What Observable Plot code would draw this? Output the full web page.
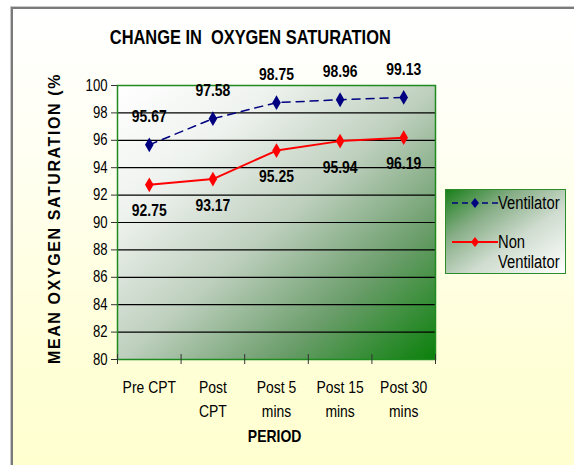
<!DOCTYPE html>
<html>
<head>
<meta charset="utf-8">
<script src="https://cdn.jsdelivr.net/npm/d3@7"></script>
<script src="https://cdn.jsdelivr.net/npm/@observablehq/plot@0.6"></script>
<style>
  html, body { margin: 0; padding: 0; width: 574px; height: 465px; overflow: hidden; background: #fff; }
  #wrap { position: relative; width: 574px; height: 465px; overflow: hidden; font-family: "Liberation Sans", Arial, sans-serif; }
  #bg { position: absolute; left: 11px; top: 7px; width: 620px; height: 520px;
        border: 2px solid #7a7a7a; box-shadow: -1px -1px 0 #c8c8c8;
        background: linear-gradient(to bottom, #ffffff 0%, #fffff4 25%, #ffffd6 70%, #ffffcc 100%); }
  .sq { display: inline-block; transform: scaleX(0.82); white-space: nowrap; }
  #title { position: absolute; left: 0; width: 500px; top: 26px; text-align: center; font-weight: bold; font-size: 20px; line-height: 22px; color: #000; }
  #title .sq { transform-origin: 50% 50%; }
  #ytitle { position: absolute; left: 55px; top: 364px; transform-origin: 0 0; transform: rotate(-90deg) translate(0, -50%);
            white-space: nowrap; font-weight: bold; font-size: 16px; letter-spacing: 1.6px; line-height: 18px; color: #000; }
  #xtitle { position: absolute; left: 225px; width: 100px; top: 427px; text-align: center; font-weight: bold; font-size: 17px; line-height: 20px; color: #000; }
  #xtitle .sq { transform-origin: 50% 50%; }
  #legend { position: absolute; left: 445px; top: 189px; width: 119px; height: 83px; border: 1.5px solid #2c8c2c;
            background: linear-gradient(to bottom right, #1a7f1a 0%, #86ad86 30%, #cfdccf 60%, #ffffff 100%); }
  #legend svg { position: absolute; left: 0; top: 0; }
  .lg { position: absolute; font-size: 18px; color: #000; line-height: 20px; }
  .lg .sq { transform-origin: 0 50%; }
  #plot { position: absolute; left: 0; top: 0; }
</style>
</head>
<body>
<div id="wrap">
  <div id="bg"></div>
  <div id="title"><span class="sq">CHANGE IN&nbsp; OXYGEN SATURATION</span></div>
  <div id="ytitle">MEAN OXYGEN SATURATION (%</div>
  <div id="plot"></div>
  <div id="xtitle"><span class="sq">PERIOD</span></div>
  <div id="legend">
    <svg width="60" height="85">
      <line x1="6" y1="13" x2="52" y2="13" stroke="#000080" stroke-width="1.5" stroke-dasharray="6,4"></line>
      <path d="M29,8 L33,13 L29,18 L25,13 Z" fill="#000080"></path>
      <line x1="6" y1="52" x2="52" y2="52" stroke="#ff0000" stroke-width="2"></line>
      <path d="M29,47 L33,52 L29,57 L25,52 Z" fill="#ff0000"></path>
    </svg>
    <div class="lg" style="left:52px; top:3px;"><span class="sq">Ventilator</span></div>
    <div class="lg" style="left:52px; top:42px;"><span class="sq">Non</span></div>
    <div class="lg" style="left:52px; top:62px;"><span class="sq">Ventilator</span></div>
  </div>
</div>
<script>
const categories = ["Pre CPT", "Post\nCPT", "Post 5\nmins", "Post 15\nmins", "Post 30\nmins"];
const ventilator = [95.67, 97.58, 98.75, 98.96, 99.13];
const nonVentilator = [92.75, 93.17, 95.25, 95.94, 96.19];
const yTicks = [80, 82, 84, 86, 88, 90, 92, 94, 96, 98, 100];

const rows = categories.map((c, i) => ({i, cat: c, v: ventilator[i], n: nonVentilator[i]}));
const bounds = d3.range(categories.length + 1).map(k => k - 0.5);

const chart = Plot.plot({
  width: 574,
  height: 465,
  marginLeft: 117,
  marginRight: 139,
  marginTop: 85,
  marginBottom: 106,
  style: {background: "transparent", fontFamily: '"Liberation Sans", Arial, sans-serif', fontSize: "16px", color: "#000", overflow: "visible"},
  x: {domain: [-0.5, categories.length - 0.5], axis: null, label: null},
  y: {domain: [80, 100], axis: null, label: null},
  marks: [
    Plot.frame({fill: "url(#plotGrad)"}),
    Plot.gridY(yTicks, {stroke: "#000", strokeOpacity: 1, strokeWidth: 1.2}),
    Plot.frame({stroke: "#1f8a1f", strokeWidth: 1.5}),
    Plot.axisY(yTicks, {anchor: "left", tickSize: 6, tickPadding: 4, stroke: "#333", fontSize: 16, tickFormat: d => String(d), label: null}),
    Plot.axisX(bounds, {anchor: "bottom", tickSize: 5, stroke: "#333", tickFormat: () => "", label: null}),
    Plot.axisX(bounds, {anchor: "bottom", tickSize: -5, stroke: "#333", tickFormat: () => "", label: null}),
    Plot.text(rows, {x: "i", text: "cat", frameAnchor: "bottom", dy: 16, lineAnchor: "top", lineHeight: 1.42, fontSize: 17}),
    Plot.line(rows, {x: "i", y: "v", stroke: "#000080", strokeWidth: 1.5, strokeDasharray: "8,6"}),
    Plot.line(rows, {x: "i", y: "n", stroke: "#ff0000", strokeWidth: 2}),
    Plot.dot(rows, {x: "i", y: "v", symbol: "diamond", r: 4.5, fill: "#000080", stroke: "none"}),
    Plot.dot(rows, {x: "i", y: "n", symbol: "diamond", r: 4.5, fill: "#ff0000", stroke: "none"}),
    Plot.text(rows, {x: "i", y: "v", text: d => d.v.toFixed(2), dy: -28, fontWeight: "bold", fontSize: 17}),
    Plot.text(rows, {x: "i", y: "n", text: d => d.n.toFixed(2), dy: 26, fontWeight: "bold", fontSize: 17})
  ]
});

d3.select(chart).insert("defs", ":first-child").html(
  '<linearGradient id="plotGrad" x1="0" y1="0" x2="1" y2="1">' +
  '<stop offset="0" stop-color="#ffffff"/>' +
  '<stop offset="0.25" stop-color="#eef2ee"/>' +
  '<stop offset="0.5" stop-color="#bfd0bf"/>' +
  '<stop offset="0.75" stop-color="#6b9d6b"/>' +
  '<stop offset="1" stop-color="#0a800a"/>' +
  '</linearGradient>'
);

// condense all chart text horizontally (Arial Narrow look); keep Plot's own x/y offsets
d3.select(chart).selectAll("text").each(function() {
  const t = this.getAttribute("transform") || "";
  this.setAttribute("transform", (t + " scale(0.82,1)").trim());
});

document.getElementById("plot").appendChild(chart);
</script>
</body>
</html>
